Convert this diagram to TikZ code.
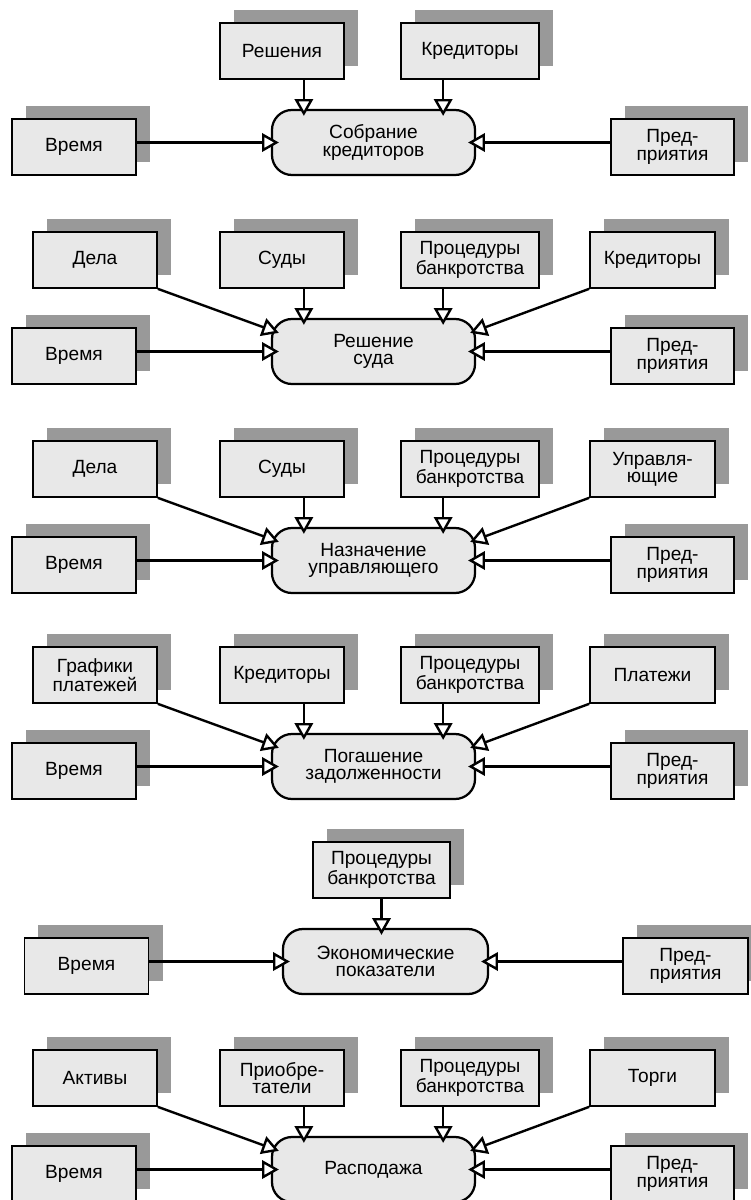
\documentclass[tikz,border=0pt]{standalone}
\usepackage{fontspec}
\setmainfont{Liberation Sans}
\usepackage{tikz}
\usetikzlibrary{calc,shadows,arrows.meta}
\definecolor{boxgray}{HTML}{E8E8E8}
\definecolor{shadowgray}{HTML}{999999}
\tikzset{
  databox/.style={draw,line width=1.2pt,fill=boxgray,rectangle,align=center,
    minimum width=3.1cm,minimum height=1.4cm,inner sep=1pt,
    font=\fontsize{13.6}{12.3}\selectfont,
    general shadow={fill=shadowgray,shadow xshift=0.35cm,shadow yshift=0.325cm}},
  taskbox/.style={draw,line width=1.6pt,fill=boxgray,rectangle,rounded corners=0.5cm,
    align=center,minimum width=5.075cm,minimum height=1.625cm,inner sep=1pt,
    font=\fontsize{13.6}{12.3}\selectfont},
  flow/.style={line width=1.7pt,-{Triangle[fill=white,length=0.42cm,width=0.46cm]}}
}
\newcommand{\tikzPorts}[1]{
  \coordinate (#1-a) at ($(#1.north west)+(8,15)$);
  \coordinate (#1-b) at ($(#1.north west)+(33,7)$);
  \coordinate (#1-c) at ($(#1.north east)+(-33,7)$);
  \coordinate (#1-d) at ($(#1.north east)+(-6,15)$);
  \coordinate (#1-e) at ($(#1.west)+(8,0)$);
  \coordinate (#1-f) at ($(#1.east)+(-8,0)$);
}
\begin{document}
\begin{tikzpicture}[x=0.025cm,y=-0.025cm]
  \useasboundingbox (0,0) rectangle (750,1200);

  % collecting creditors
  \begin{scope}[shift={(0,23)}]
    \node[databox] (resh1) at (282,28) {Решения};
    \node[databox,minimum width=3.45cm] (kred1) at (470,28) {Кредиторы};
    \node[databox] (vrem1) at (74,124) {Время};
    \node[databox,minimum width=3.075cm] (pred1) at (672.5,124) {Пред-\\приятия};
    \node[taskbox] (sobr) at (373.5,119.5) {Собрание\\кредиторов};
    \tikzPorts{sobr}
    \draw[flow] (resh1.south -| sobr-b) -- (sobr-b);
    \draw[flow] (kred1.south -| sobr-c) -- (sobr-c);
    \draw[flow] (vrem1.east |- sobr-e) -- (sobr-e);
    \draw[flow] (pred1.west |- sobr-f) -- (sobr-f);
  \end{scope}

  % court decision
  \begin{scope}[shift={(0,232)}]
    \node[databox] (dela2) at (95,28) {Дела};
    \node[databox] (sudy2) at (282,28) {Суды};
    \node[databox,minimum width=3.45cm] (proc2) at (470,28) {Процедуры\\банкротства};
    \node[databox,minimum width=3.125cm] (kred2) at (652.5,28) {Кредиторы};
    \node[databox] (vrem2) at (74,124) {Время};
    \node[databox,minimum width=3.075cm] (pred2) at (672.5,124) {Пред-\\приятия};
    \node[taskbox] (resh) at (373.5,119.5) {Решение\\суда};
    \tikzPorts{resh}
    \draw[flow] (dela2.south east) -- (resh-a);
    \draw[flow] (sudy2.south -| resh-b) -- (resh-b);
    \draw[flow] (proc2.south -| resh-c) -- (resh-c);
    \draw[flow] (kred2.south west) -- (resh-d);
    \draw[flow] (vrem2.east |- resh-e) -- (resh-e);
    \draw[flow] (pred2.west |- resh-f) -- (resh-f);
  \end{scope}

  % manager appointment
  \begin{scope}[shift={(0,441)}]
    \node[databox] (dela3) at (95,28) {Дела};
    \node[databox] (sudy3) at (282,28) {Суды};
    \node[databox,minimum width=3.45cm] (proc3) at (470,28) {Процедуры\\банкротства};
    \node[databox,minimum width=3.125cm] (uprav3) at (652.5,28) {Управля-\\ющие};
    \node[databox] (vrem3) at (74,124) {Время};
    \node[databox,minimum width=3.075cm] (pred3) at (672.5,124) {Пред-\\приятия};
    \node[taskbox] (nazn) at (373.5,119.5) {Назначение\\управляющего};
    \tikzPorts{nazn}
    \draw[flow] (dela3.south east) -- (nazn-a);
    \draw[flow] (sudy3.south -| nazn-b) -- (nazn-b);
    \draw[flow] (proc3.south -| nazn-c) -- (nazn-c);
    \draw[flow] (uprav3.south west) -- (nazn-d);
    \draw[flow] (vrem3.east |- nazn-e) -- (nazn-e);
    \draw[flow] (pred3.west |- nazn-f) -- (nazn-f);
  \end{scope}

  % debt repayment
  \begin{scope}[shift={(0,647)}]
    \node[databox] (graf4) at (95,28) {Графики\\платежей};
    \node[databox] (kred4) at (282,28) {Кредиторы};
    \node[databox,minimum width=3.45cm] (proc4) at (470,28) {Процедуры\\банкротства};
    \node[databox,minimum width=3.125cm] (plat4) at (652.5,28) {Платежи};
    \node[databox] (vrem4) at (74,124) {Время};
    \node[databox,minimum width=3.075cm] (pred4) at (672.5,124) {Пред-\\приятия};
    \node[taskbox] (pogash) at (373.5,119.5) {Погашение\\задолженности};
    \tikzPorts{pogash}
    \draw[flow] (graf4.south east) -- (pogash-a);
    \draw[flow] (kred4.south -| pogash-b) -- (pogash-b);
    \draw[flow] (proc4.south -| pogash-c) -- (pogash-c);
    \draw[flow] (plat4.south west) -- (pogash-d);
    \draw[flow] (vrem4.east |- pogash-e) -- (pogash-e);
    \draw[flow] (pred4.west |- pogash-f) -- (pogash-f);
  \end{scope}

  % economic figures
  \begin{scope}[shift={(0,842)}]
    \node[databox,minimum width=3.425cm] (proc5) at (381.5,28) {Процедуры\\банкротства};
    \node[databox] (vrem5) at (86.5,124) {Время};
    \node[databox,minimum width=3.125cm] (pred5) at (685.5,124) {Пред-\\приятия};
    \node[taskbox,minimum width=5.125cm] (econ) at (385.5,119.5) {Экономические\\показатели};
    \tikzPorts{econ}
    \coordinate (econ-top) at ($(proc5 |- econ.north)+(0,7)$);
    \draw[flow] (proc5) -- (econ-top);
    \draw[flow] (vrem5.east |- econ-e) -- (econ-e);
    \draw[flow] (pred5.west |- econ-f) -- (econ-f);
  \end{scope}

  % sale
  \begin{scope}[shift={(0,1050)}]
    \node[databox] (akt6) at (95,28) {Активы};
    \node[databox] (prio6) at (282,28) {Приобре-\\татели};
    \node[databox,minimum width=3.45cm] (proc6) at (470,28) {Процедуры\\банкротства};
    \node[databox,minimum width=3.125cm] (torg6) at (652.5,28) {Торги};
    \node[databox] (vrem6) at (74,124) {Время};
    \node[databox,minimum width=3.075cm] (pred6) at (672.5,124) {Пред-\\приятия};
    \node[taskbox] (rasp) at (373.5,119.5) {Расподажа};
    \tikzPorts{rasp}
    \draw[flow] (akt6.south east) -- (rasp-a);
    \draw[flow] (prio6.south -| rasp-b) -- (rasp-b);
    \draw[flow] (proc6.south -| rasp-c) -- (rasp-c);
    \draw[flow] (torg6.south west) -- (rasp-d);
    \draw[flow] (vrem6.east |- rasp-e) -- (rasp-e);
    \draw[flow] (pred6.west |- rasp-f) -- (rasp-f);
  \end{scope}
\end{tikzpicture}
\end{document}
